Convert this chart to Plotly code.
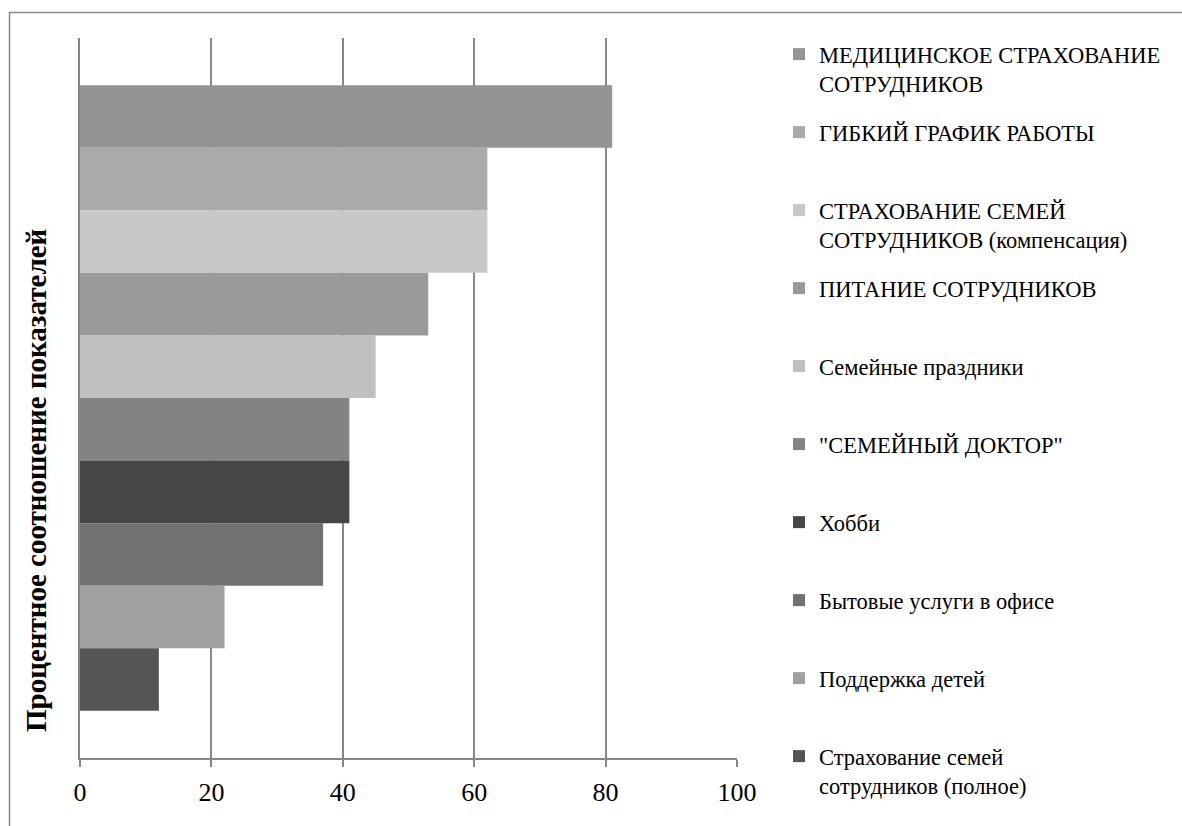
import plotly.graph_objects as go

categories = [
    "МЕДИЦИНСКОЕ СТРАХОВАНИЕ<br>СОТРУДНИКОВ",
    "ГИБКИЙ ГРАФИК РАБОТЫ",
    "СТРАХОВАНИЕ СЕМЕЙ<br>СОТРУДНИКОВ (компенсация)",
    "ПИТАНИЕ СОТРУДНИКОВ",
    "Семейные праздники",
    "\"СЕМЕЙНЫЙ ДОКТОР\"",
    "Хобби",
    "Бытовые услуги в офисе",
    "Поддержка детей",
    "Страхование семей<br>сотрудников (полное)",
]
values = [81, 62, 62, 53, 45, 41, 41, 37, 22, 12]
colors = ["#949494", "#aaaaaa", "#c8c8c8", "#9a9a9a", "#c0c0c0",
          "#838383", "#464646", "#717171", "#a0a0a0", "#555555"]
tick_vals = [0, 20, 40, 60, 80, 100]
y_title = "Процентное соотношение показателей"
group_label = [""]

W, H = 1182, 826
L, R, T, B = 80, 737, 38, 758

fig = go.Figure()
for i, (name, v, c) in enumerate(zip(categories, values, colors)):
    label = name if "<br>" in name else name + "<br>\u00a0"
    fig.add_trace(go.Bar(
        x=[v], y=group_label, orientation="h", name=label,
        marker=dict(color=c, line=dict(width=0)),
        legendgroup=str(i), hoverinfo="x+name",
    ))

# frame around chart area (decoration)
pw, ph = R - L, B - T
fig.add_shape(type="rect", xref="paper", yref="paper",
              x0=(9.5 - L) / pw, x1=(W + 5 - L) / pw,
              y0=(B - (H + 5)) / ph, y1=(B - 12.5) / ph,
              line=dict(color="#878787", width=1.5), fillcolor="rgba(0,0,0,0)",
              layer="below")

fig.add_annotation(
    text="<b>" + y_title + "</b>", textangle=-90,
    xref="paper", yref="paper",
    x=(36 - L) / pw, y=(B - 481) / ph,
    showarrow=False, xanchor="center", yanchor="middle",
    font=dict(family="Liberation Serif", size=29, color="#000000"),
)

fig.update_layout(
    width=W, height=H,
    margin=dict(l=L, r=W - R, t=T, b=H - B, pad=0),
    paper_bgcolor="white", plot_bgcolor="white",
    barmode="group", bargap=0.131, bargroupgap=0,
    font=dict(family="Liberation Serif", color="#000000"),
    showlegend=True,
    legend=dict(
        xref="container", yref="container",
        x=779 / W, y=1 - 33 / H, xanchor="left", yanchor="top",
        font=dict(family="Liberation Serif", size=22.5, color="#000000"),
        valign="top", tracegroupgap=16.5, bgcolor="rgba(0,0,0,0)",
        traceorder="grouped", maxheight=900,
    ),
    xaxis=dict(
        range=[0, 100], tickvals=tick_vals, ticktext=[str(t) for t in tick_vals],
        showgrid=True, gridcolor="#878787", gridwidth=1.5,
        showline=True, linecolor="#878787", linewidth=1.5,
        ticks="outside", ticklen=7, tickwidth=1.5, tickcolor="#878787",
        tickfont=dict(family="Liberation Serif", size=26, color="#000000"),
        ticklabelstandoff=3, zeroline=False, fixedrange=True,
    ),
    yaxis=dict(
        autorange="reversed", showticklabels=False, ticks="",
        showgrid=False, zeroline=False, fixedrange=True,
        showline=True, linecolor="#878787", linewidth=1.5,
    ),
)

fig.write_html("out.html")
